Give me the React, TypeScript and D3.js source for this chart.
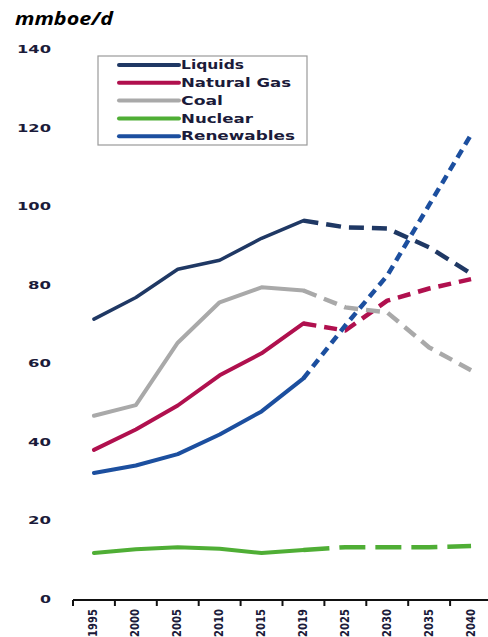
import React from "react";
import * as d3 from "d3";

const years = ["1995", "2000", "2005", "2010", "2015", "2019", "2025", "2030", "2035", "2040"];
const liquids = [71.3, 76.8, 84.0, 86.3, 91.9, 96.4, 94.7, 94.4, 89.6, 82.9];
const naturalGas = [38.0, 43.2, 49.3, 57.0, 62.6, 70.2, 68.4, 76.0, 79.1, 81.5];
const coal = [46.7, 49.4, 65.3, 75.6, 79.4, 78.6, 74.3, 73.0, 64.1, 58.3];
const nuclear = [11.7, 12.7, 13.2, 12.8, 11.7, 12.5, 13.2, 13.2, 13.2, 13.5];
const renewables = [32.1, 34.0, 36.9, 41.9, 47.8, 56.2, 69.7, 82.4, 100.4, 118.3];
const yTicks = [0, 20, 40, 60, 80, 100, 120, 140];
const historicalCount = 6;

const seriesNames = ["Liquids", "Natural Gas", "Coal", "Nuclear", "Renewables"];
const seriesValues = [liquids, naturalGas, coal, nuclear, renewables];
const seriesColors = ["#1f3864", "#b0104e", "#a9a9a9", "#4fae35", "#1c4f9f"];
const seriesDash = ["15,8", "13,8", "14,8", "26,10", "9,6"];
const seriesWidth = [3.5, 4, 4, 4, 4];
const legendTextLen = [63, 110, 42, 72, 114];

export default function App() {
  const W = 488;
  const H = 637;
  const x = d3.scaleBand<string>().domain(years).range([73, 73 + 41.9 * 10]);
  const y = d3.scaleLinear().domain([0, 140]).range([599, 49.5]);
  const cx = (i: number) => (x(years[i]) as number) + x.bandwidth() / 2;
  const line = d3
    .line<[number, number]>()
    .x((d) => cx(d[0]))
    .y((d) => y(d[1]))
    .curve(d3.curveLinear);

  const boundaries = years.map((yr) => x(yr) as number);

  return (
    <svg
      width={W}
      height={H}
      style={{ position: "absolute", left: 0, top: 0, background: "#fff" }}
      fontFamily="'DejaVu Sans', Verdana, sans-serif"
    >
      <text
        x={15}
        y={25}
        fontSize={18}
        fontWeight="bold"
        fontStyle="italic"
        fontFamily="'Open Sans', 'Liberation Sans', sans-serif"
        textLength={98}
        lengthAdjust="spacingAndGlyphs"
        fill="#000"
      >
        mmboe/d
      </text>

      {yTicks.map((t) => (
        <text
          key={t}
          x={51}
          y={y(t)}
          dy="0.36em"
          textAnchor="end"
          fontSize={11}
          fontWeight="bold"
          fill="#1b1b3a"
          textLength={t >= 100 ? 34 : t === 0 ? 11 : 23}
          lengthAdjust="spacingAndGlyphs"
        >
          {t}
        </text>
      ))}

      {/* x axis */}
      <line x1={73} x2={488} y1={600} y2={600} stroke="#111" strokeWidth={2} />
      {boundaries.map((b, i) => (
        <line key={i} x1={b} x2={b} y1={600} y2={606} stroke="#111" strokeWidth={2} />
      ))}
      {years.map((yr, i) => (
        <text
          key={yr}
          transform={`translate(${cx(i) + 3.5},${609}) rotate(-90)`}
          textAnchor="end"
          fontSize={12.5}
          fontWeight="bold"
          fill="#1b1b3a"
          textLength={28}
          lengthAdjust="spacingAndGlyphs"
        >
          {yr}
        </text>
      ))}

      {/* series */}
      {seriesValues.map((vals, s) => {
        const pts: [number, number][] = vals.map((v, i) => [i, v]);
        const hist = pts.slice(0, historicalCount);
        const proj = pts.slice(historicalCount - 1);
        return (
          <g key={s}>
            <path
              d={line(hist) || ""}
              fill="none"
              stroke={seriesColors[s]}
              strokeWidth={seriesWidth[s]}
              strokeLinecap="round"
              strokeLinejoin="round"
            />
            <path
              d={line(proj) || ""}
              fill="none"
              stroke={seriesColors[s]}
              strokeWidth={4.5}
              strokeDasharray={seriesDash[s]}
              strokeLinejoin="round"
            />
          </g>
        );
      })}

      {/* legend */}
      <rect x={98} y={56} width={209} height={89} fill="#fff" stroke="#9a9a9a" strokeWidth={1.2} />
      {seriesNames.map((n, i) => {
        const ly = 65 + i * 17.8;
        return (
          <g key={n}>
            <line
              x1={119}
              x2={179}
              y1={ly}
              y2={ly}
              stroke={seriesColors[i]}
              strokeWidth={4}
              strokeLinecap="round"
            />
            <text
              x={181}
              y={ly}
              dy="0.36em"
              fontSize={11.5}
              fontWeight="bold"
              fill="#1b1b3a"
              textLength={legendTextLen[i]}
              lengthAdjust="spacingAndGlyphs"
            >
              {n}
            </text>
          </g>
        );
      })}
    </svg>
  );
}
